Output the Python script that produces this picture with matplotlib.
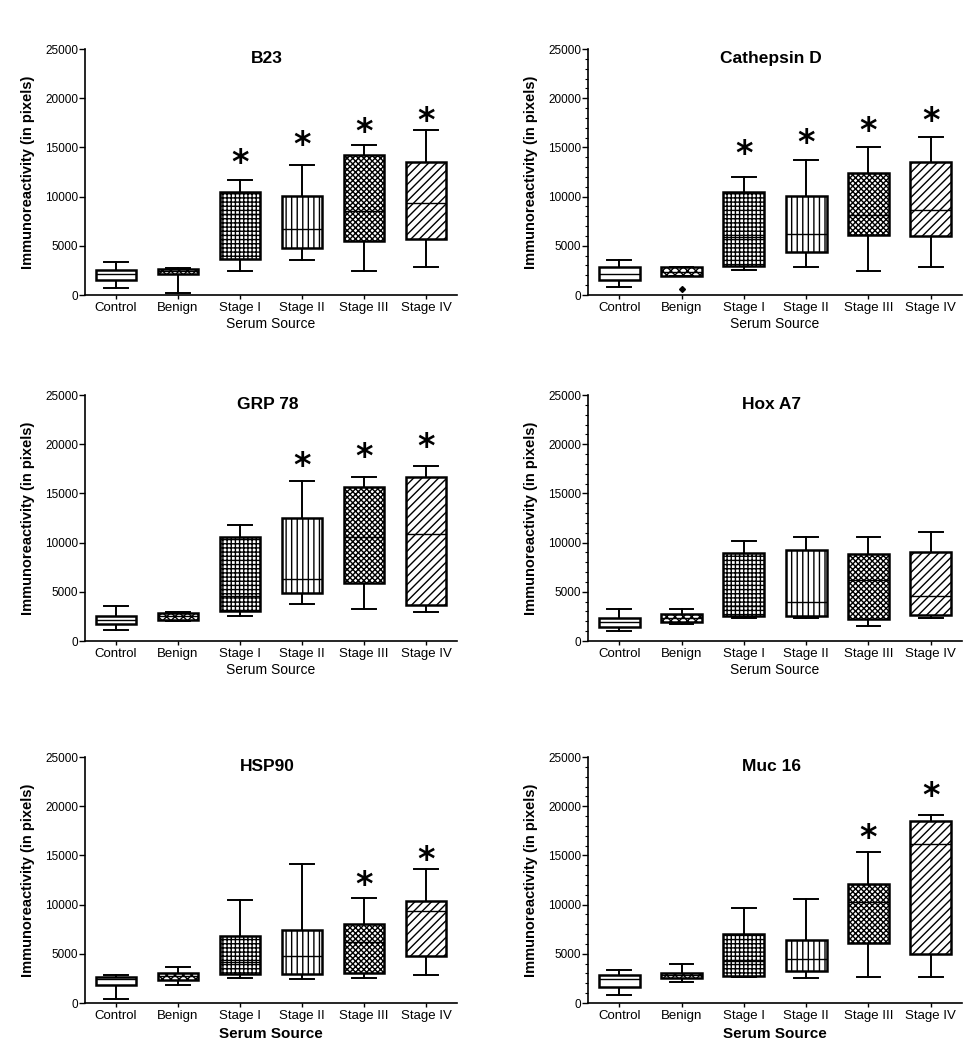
import matplotlib
matplotlib.use('Agg')
import matplotlib.pyplot as plt
from matplotlib.ticker import MultipleLocator

plt.rcParams['font.family'] = ['Liberation Sans', 'DejaVu Sans']
plt.rcParams['hatch.linewidth'] = 1.0

# serum groups on the x axis
groups = ['Control', 'Benign', 'Stage I', 'Stage II', 'Stage III', 'Stage IV']

# box values per group: [whisker low, Q1, median, Q3, whisker high]
b23 = [[750, 1560, 2100, 2580, 3390],
       [170, 2100, 2450, 2680, 2700],
       [2400, 3620, 8260, 10470, 11720],
       [3520, 4740, 6740, 10100, 13250],
       [2400, 5450, 8570, 14230, 15210],
       [2810, 5720, 9350, 13550, 16770]]
cathepsin_d = [[850, 1560, 2100, 2810, 3560],
               [1930, 1930, 2300, 2810, 2810],
               [2540, 2950, 5930, 10470, 12020],
               [2810, 4340, 6160, 10100, 13690],
               [2400, 6130, 8130, 12430, 15080],
               [2810, 6030, 8640, 13550, 16020]]
grp78 = [[1150, 1700, 2170, 2580, 3530],
         [2030, 2100, 2510, 2850, 2950],
         [2540, 3090, 4550, 10520, 11770],
         [3800, 4920, 6310, 12480, 16250],
         [3260, 5900, 10580, 15670, 16620],
         [2950, 3660, 10920, 16620, 17740]]
hoxa7 = [[1020, 1390, 1930, 2310, 3260],
         [1730, 1970, 2370, 2710, 3260],
         [2310, 2510, 3530, 8990, 10210],
         [2310, 2510, 3970, 9230, 10520],
         [1560, 2240, 6170, 8850, 10520],
         [2310, 2680, 4610, 9090, 11060]]
hsp90 = [[440, 1800, 2400, 2640, 2810],
         [1800, 2370, 2740, 3080, 3660],
         [2540, 2950, 4170, 6810, 10500],
         [2400, 2950, 4740, 7420, 14130],
         [2540, 3080, 6200, 8000, 10640],
         [2810, 4740, 9380, 10330, 13580]]
muc16 = [[850, 1660, 2400, 2800, 3380],
         [2100, 2500, 2870, 3070, 3920],
         [2640, 2770, 4220, 7030, 9630],
         [2530, 3240, 4490, 6420, 10610],
         [2640, 6120, 10300, 12100, 15300],
         [2640, 5000, 16150, 18510, 19090]]

# outlying points per group
cathepsin_d_fliers = [[], [580], [], [], [], []]
no_fliers = [[], [], [], [], [], []]

# asterisk heights (None = no asterisk)
b23_star = [None, None, 14060, 15920, 17210, 18360]
cathepsin_d_star = [None, None, 15000, 16090, 17280, 18360]
grp78_star = [None, None, None, 18390, 19340, 20420]
hoxa7_star = [None, None, None, None, None, None]
hsp90_star = [None, None, None, None, 12640, 15180]
muc16_star = [None, None, None, None, 17430, 21660]

hatches = ['', 'xxxx', '++++', '|||', 'xxxxxx', '////']

panels = [
    ('B23', b23, b23_star, no_fliers),
    ('Cathepsin D', cathepsin_d, cathepsin_d_star, cathepsin_d_fliers),
    ('GRP 78', grp78, grp78_star, no_fliers),
    ('Hox A7', hoxa7, hoxa7_star, no_fliers),
    ('HSP90', hsp90, hsp90_star, no_fliers),
    ('Muc 16', muc16, muc16_star, no_fliers),
]

fig = plt.figure(figsize=(9.75, 10.5), dpi=100)

W, H = 975.0, 1050.0
col_left = [85, 588]
col_width = [372, 374]
row_top = [49, 395, 757]
ax_h = 246

for i, (name, vals, stars, fliers) in enumerate(panels):
    r, c = divmod(i, 2)
    ax = fig.add_axes([col_left[c] / W, 1 - (row_top[r] + ax_h) / H,
                       col_width[c] / W, ax_h / H])

    stats = []
    for g, v, f in zip(groups, vals, fliers):
        stats.append({'label': g, 'whislo': v[0], 'q1': v[1], 'med': v[2],
                      'q3': v[3], 'whishi': v[4], 'fliers': f})
    bp = ax.bxp(stats, positions=range(len(groups)), widths=0.66,
                capwidths=0.38, patch_artist=True, showfliers=True,
                boxprops=dict(linewidth=1.8, edgecolor='black'),
                whiskerprops=dict(linewidth=1.4, color='black'),
                capprops=dict(linewidth=1.4, color='black'),
                medianprops=dict(linewidth=1.0, color='black'),
                flierprops=dict(marker='D', markersize=3,
                                markerfacecolor='black', markeredgecolor='black'))
    for box, h in zip(bp['boxes'], hatches):
        box.set_facecolor('white')
        box.set_hatch(h)
    # keep whiskers behind the box
    for w in bp['whiskers']:
        w.set_zorder(1)

    # significance asterisks
    for x, s in enumerate(stars):
        if s is not None:
            ax.annotate('*', (x, s), xytext=(0, -5), textcoords='offset points',
                        ha='center', va='center', fontsize=24,
                        fontweight='bold', family='DejaVu Sans')

    ax.text(0.49, 0.963, name, transform=ax.transAxes, ha='center',
            va='center', fontsize=12.5, fontweight='bold')

    ax.set_xlim(-0.5, 5.5)
    ax.set_ylim(0, 25000)
    ax.yaxis.set_major_locator(MultipleLocator(5000))
    if c == 1:
        ax.yaxis.set_minor_locator(MultipleLocator(1000))
        ax.tick_params(axis='y', which='minor', length=2, width=0.8)
    ax.spines['top'].set_visible(False)
    ax.spines['right'].set_visible(False)
    ax.spines['left'].set_linewidth(1.2)
    ax.spines['bottom'].set_linewidth(1.2)
    ax.tick_params(axis='y', which='major', length=4, width=1, labelsize=8.5, pad=1)
    ax.tick_params(axis='x', length=3, width=1, labelsize=9.5, pad=2)
    ax.set_xticks(range(len(groups)))
    ax.set_xticklabels(groups)

    ax.set_ylabel('Immunoreactivity (in pixels)', fontsize=10.5, fontweight='bold')
    ax.yaxis.set_label_coords(-50.0 / col_width[c], 0.5)
    if r == 2:
        ax.set_xlabel('Serum Source', fontsize=11, fontweight='bold')
        ax.xaxis.set_label_coords(0.5, -31.0 / ax_h)
    else:
        ax.set_xlabel('Serum Source', fontsize=10)
        ax.xaxis.set_label_coords(0.5, -29.0 / ax_h)
    ax.xaxis.label.set_va('center')

fig.savefig('out.png', dpi=100)
